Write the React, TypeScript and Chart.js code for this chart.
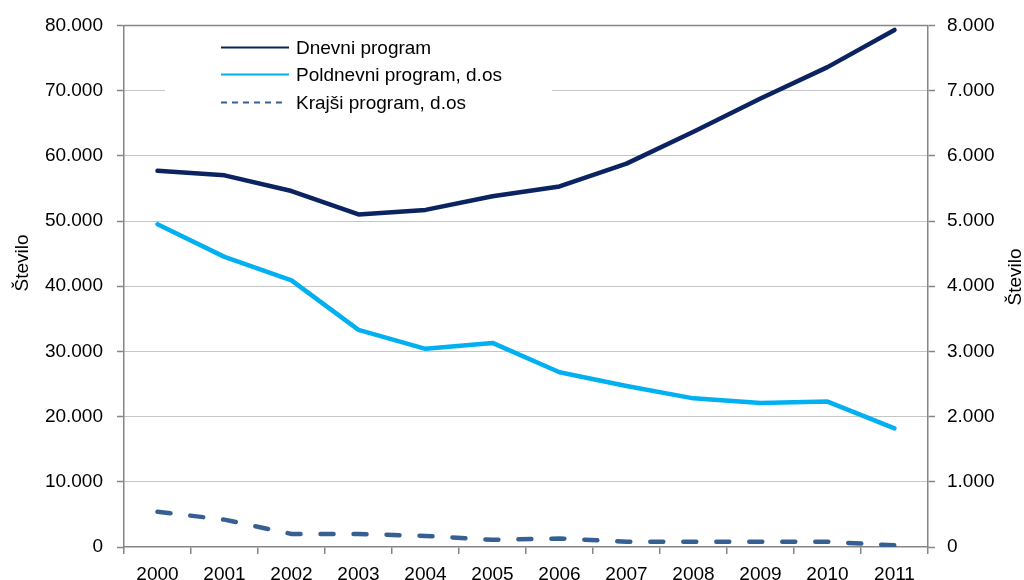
import React, { useEffect, useRef } from 'react';
import { Chart, registerables } from 'chart.js';

Chart.register(...registerables);

const years = ['2000', '2001', '2002', '2003', '2004', '2005', '2006', '2007', '2008', '2009', '2010', '2011'];
const dnevni = [57700, 57000, 54600, 51000, 51700, 53800, 55300, 58800, 63700, 68800, 73600, 79300];
const poldnevni = [4950, 4450, 4090, 3330, 3040, 3130, 2680, 2470, 2280, 2210, 2230, 1820];
const krajsi = [540, 420, 200, 200, 170, 110, 130, 80, 80, 80, 80, 25];
const seriesLabels = ['Dnevni program', 'Poldnevni program, d.os', 'Krajši program, d.os'];
const seriesColors = ['#0B2461', '#00B0F0', '#376092'];
const axisTitle = 'Število';
const leftMax = 80000;
const leftStep = 10000;
const rightMax = 8000;
const rightStep = 1000;

const FONT = '"Liberation Sans", Arial, sans-serif';
const AXIS_GRAY = '#868686';

function fmt(v: number): string {
  const s = Math.round(v).toString();
  return s.replace(/\B(?=(\d{3})+(?!\d))/g, '.');
}

const inlineLegend = {
  id: 'inlineLegend',
  beforeDatasetsDraw(chart: any) {
    const ctx = chart.ctx as CanvasRenderingContext2D;
    const ca = chart.chartArea;
    ctx.save();
    // solid top border line
    ctx.strokeStyle = AXIS_GRAY;
    ctx.lineWidth = 1.5;
    ctx.beginPath();
    ctx.moveTo(ca.left, ca.top);
    ctx.lineTo(ca.right, ca.top);
    ctx.stroke();
    // legend box
    const bx = ca.left + 41;
    const by = ca.top + 6;
    ctx.fillStyle = '#ffffff';
    ctx.fillRect(bx, by, 387, 86);
    const lx0 = ca.left + 97;
    const lx1 = ca.left + 165;
    const tx = ca.left + 172;
    const rows = [ca.top + 22, ca.top + 49, ca.top + 77];
    ctx.font = '19px ' + FONT;
    ctx.textBaseline = 'middle';
    ctx.textAlign = 'left';
    chart.data.datasets.forEach((ds: any, i: number) => {
      const y = rows[i];
      ctx.strokeStyle = ds.borderColor;
      ctx.lineWidth = 2;
      ctx.setLineDash(i === 2 ? [6, 5] : []);
      ctx.beginPath();
      ctx.moveTo(lx0, y);
      ctx.lineTo(i === 2 ? lx0 + 61 : lx1, y);
      ctx.stroke();
      ctx.setLineDash([]);
      ctx.fillStyle = '#000000';
      ctx.fillText(ds.label, tx, y + 1);
    });
    // axis titles (both read bottom-to-top)
    ctx.font = '19px ' + FONT;
    ctx.textAlign = 'center';
    ctx.textBaseline = 'middle';
    ctx.fillStyle = '#000000';
    const titles = [
      { x: 23, y: 263 },
      { x: 1016, y: 277 },
    ];
    titles.forEach((t) => {
      ctx.save();
      ctx.translate(t.x, t.y);
      ctx.rotate(-Math.PI / 2);
      ctx.fillText(axisTitle, 0, 0);
      ctx.restore();
    });
    ctx.restore();
  },
};

export default function App() {
  const ref = useRef<HTMLCanvasElement | null>(null);

  useEffect(() => {
    if (!ref.current) return;
    const chart = new Chart(ref.current, {
      type: 'line',
      data: {
        labels: years,
        datasets: [
          {
            label: seriesLabels[0],
            data: dnevni,
            yAxisID: 'y',
            borderColor: seriesColors[0],
            backgroundColor: seriesColors[0],
            borderWidth: 4.5,
            pointRadius: 0,
            tension: 0,
            borderCapStyle: 'round',
            borderJoinStyle: 'round',
          },
          {
            label: seriesLabels[1],
            data: poldnevni,
            yAxisID: 'y1',
            borderColor: seriesColors[1],
            backgroundColor: seriesColors[1],
            borderWidth: 4.5,
            pointRadius: 0,
            tension: 0,
            borderCapStyle: 'round',
            borderJoinStyle: 'round',
          },
          {
            label: seriesLabels[2],
            data: krajsi,
            yAxisID: 'y1',
            borderColor: seriesColors[2],
            backgroundColor: seriesColors[2],
            borderWidth: 4.5,
            borderDash: [13, 20],
            borderCapStyle: 'round',
            pointRadius: 0,
            tension: 0,
          },
        ],
      },
      options: {
        responsive: false,
        animation: false,
        layout: { padding: { top: 24, left: 0, right: 0, bottom: 0 } },
        plugins: {
          legend: { display: false },
          tooltip: { enabled: false },
        },
        scales: {
          x: {
            type: 'category',
            offset: true,
            grid: {
              offset: true,
              drawOnChartArea: false,
              drawTicks: true,
              tickLength: 7,
              color: AXIS_GRAY,
              lineWidth: 1.5,
            },
            border: { display: true, color: AXIS_GRAY, width: 1.5 },
            ticks: {
              color: '#000',
              font: { family: FONT, size: 19 },
              padding: 9,
              maxRotation: 0,
              autoSkip: false,
            },
            afterFit(scale: any) {
              scale.height = 33;
            },
          },
          y: {
            type: 'linear',
            position: 'left',
            min: 0,
            max: leftMax,
            ticks: {
              stepSize: leftStep,
              color: '#000',
              font: { family: FONT, size: 19 },
              padding: 14,
              callback: (v: any) => fmt(Number(v)),
            },
            grid: {
              drawOnChartArea: true,
              drawTicks: true,
              tickLength: 7,
              color: (c: any) =>
                c.tick && (c.tick.value === 0 || c.tick.value === leftMax) ? 'rgba(0,0,0,0)' : '#8a8a8a',
              tickColor: AXIS_GRAY,
              lineWidth: 1,
              tickWidth: 1.5,
              tickBorderDash: [],
            } as any,
            border: { display: true, color: AXIS_GRAY, width: 1.5, dash: [1, 1] },
            title: { display: false },
            afterFit(scale: any) {
              scale.width = 124;
            },
          },
          y1: {
            type: 'linear',
            position: 'right',
            min: 0,
            max: rightMax,
            ticks: {
              stepSize: rightStep,
              color: '#000',
              font: { family: FONT, size: 19 },
              padding: 12,
              callback: (v: any) => fmt(Number(v)),
            },
            grid: {
              drawOnChartArea: false,
              drawTicks: true,
              tickLength: 7,
              tickColor: AXIS_GRAY,
              tickWidth: 1.5,
            } as any,
            border: { display: true, color: AXIS_GRAY, width: 1.5 },
            title: { display: false },
            afterFit(scale: any) {
              scale.width = 96;
            },
          },
        },
      },
      plugins: [inlineLegend],
    } as any);
    return () => chart.destroy();
  }, []);

  return (
    <div style={{ position: 'fixed', left: 0, top: 0, width: 1024, height: 580, background: '#fff' }}>
      <canvas ref={ref} width={1024} height={580} style={{ width: 1024, height: 580, display: 'block' }} />
    </div>
  );
}
